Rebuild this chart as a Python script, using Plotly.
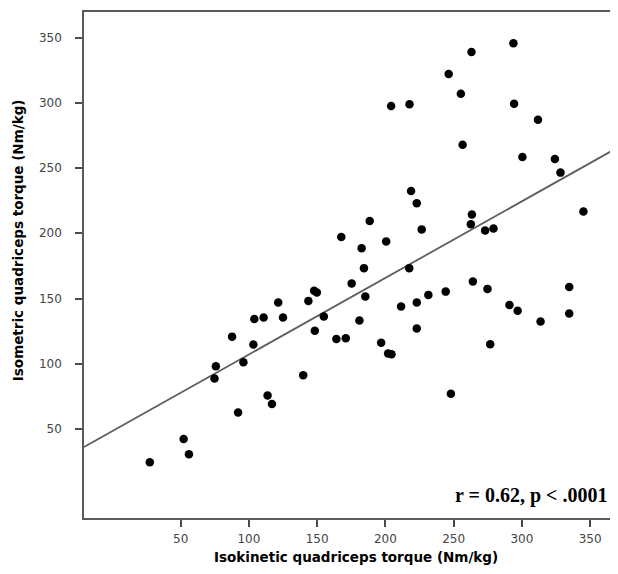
import plotly.graph_objects as go

# Data
isokinetic = [167.7, 293.8, 263.1, 246.4, 255.3, 204.2, 217.7, 294.3, 311.8, 256.6,
              300.4, 324.2, 328.3, 218.8, 223.0, 188.5, 263.4, 262.6, 226.6, 273.1,
              279.2, 200.6, 345.1, 182.6, 184.3, 217.5, 175.3, 147.8, 149.8, 121.5,
              143.6, 104.0, 110.8, 125.0, 154.9, 181.0, 87.7, 148.3, 164.1, 171.0,
              103.3, 96.0, 75.8, 74.8, 139.8, 113.7, 116.9, 92.1, 52.2, 56.1,
              27.4, 185.3, 211.5, 223.0, 231.5, 244.2, 264.1, 274.8, 334.7, 290.9,
              296.9, 313.7, 334.7, 223.0, 196.9, 202.0, 204.5, 276.8, 248.0]
isometric = [197.1, 345.7, 338.9, 322.1, 307.0, 297.6, 298.9, 299.2, 287.0, 267.9,
             258.4, 256.9, 246.5, 232.4, 223.1, 209.5, 214.4, 207.0, 203.0, 202.2,
             203.7, 193.8, 216.7, 188.5, 173.3, 173.3, 161.5, 155.9, 154.6, 146.9,
             148.2, 134.3, 135.5, 135.5, 136.3, 133.2, 120.8, 125.3, 119.0, 119.5,
             114.7, 101.1, 98.1, 88.7, 91.2, 75.7, 69.1, 62.7, 42.4, 30.7,
             24.6, 151.5, 143.9, 146.9, 152.8, 155.3, 163.0, 157.4, 158.9, 145.0,
             140.6, 132.4, 138.5, 127.1, 116.2, 107.8, 107.3, 114.9, 77.0]

fit_intercept = 48.4
fit_slope = 0.587

x_ticks = [50, 100, 150, 200, 250, 300, 350]
y_ticks = [50, 100, 150, 200, 250, 300, 350]
x_range = [-20.8, 367.5]
y_range = [-18.2, 369.6]

x_title = "Isokinetic quadriceps torque (Nm/kg)"
y_title = "Isometric quadriceps torque (Nm/kg)"
stat_text = "r = 0.62, p < .0001"

fit_x = [x_range[0], x_range[1]]
fit_y = [fit_intercept + fit_slope * v for v in fit_x]

fig = go.Figure()
fig.add_trace(go.Scatter(x=fit_x, y=fit_y, mode="lines",
                         line=dict(color="#5f5f5f", width=1.8),
                         hoverinfo="skip", showlegend=False))
fig.add_trace(go.Scatter(x=isokinetic, y=isometric, mode="markers",
                         marker=dict(color="black", size=8.5, line=dict(width=0)),
                         showlegend=False))

axis_common = dict(showgrid=False, zeroline=False, showline=True, mirror=True,
                   linecolor="#5a5a5a", linewidth=1.6, ticks="outside", ticklen=7,
                   tickwidth=1.6, tickcolor="#4a4a4a",
                   tickfont=dict(family="DejaVu Sans", size=12, color="#444444"))

fig.update_xaxes(range=x_range, tickvals=x_ticks, ticklabelstandoff=2, **axis_common)
fig.update_yaxes(range=y_range, tickvals=y_ticks, ticklabelstandoff=11, **axis_common)

# page body has an 8px margin, so the figure is sized/offset to compensate
fig.update_layout(
    width=610, height=566,
    margin=dict(l=76, r=2, t=2, b=56),
    plot_bgcolor="white", paper_bgcolor="white",
    annotations=[
        dict(text=x_title, xref="paper", yref="paper", x=0.5, y=0,
             xshift=7, yshift=-39, xanchor="center", yanchor="middle", showarrow=False,
             font=dict(family="DejaVu Sans", size=13.5, color="black", weight="bold")),
        dict(text=y_title, xref="paper", yref="paper", x=0, y=0.549,
             xshift=-66, xanchor="center", yanchor="middle", showarrow=False,
             textangle=-90,
             font=dict(family="DejaVu Sans", size=13.5, color="black", weight="bold")),
        dict(text=stat_text, xref="paper", yref="paper", x=1, y=0,
             xshift=-5, yshift=23, xanchor="right", yanchor="middle", showarrow=False,
             font=dict(family="Liberation Serif", size=20, color="black", weight="bold")),
    ],
)

fig.write_html("out.html")
